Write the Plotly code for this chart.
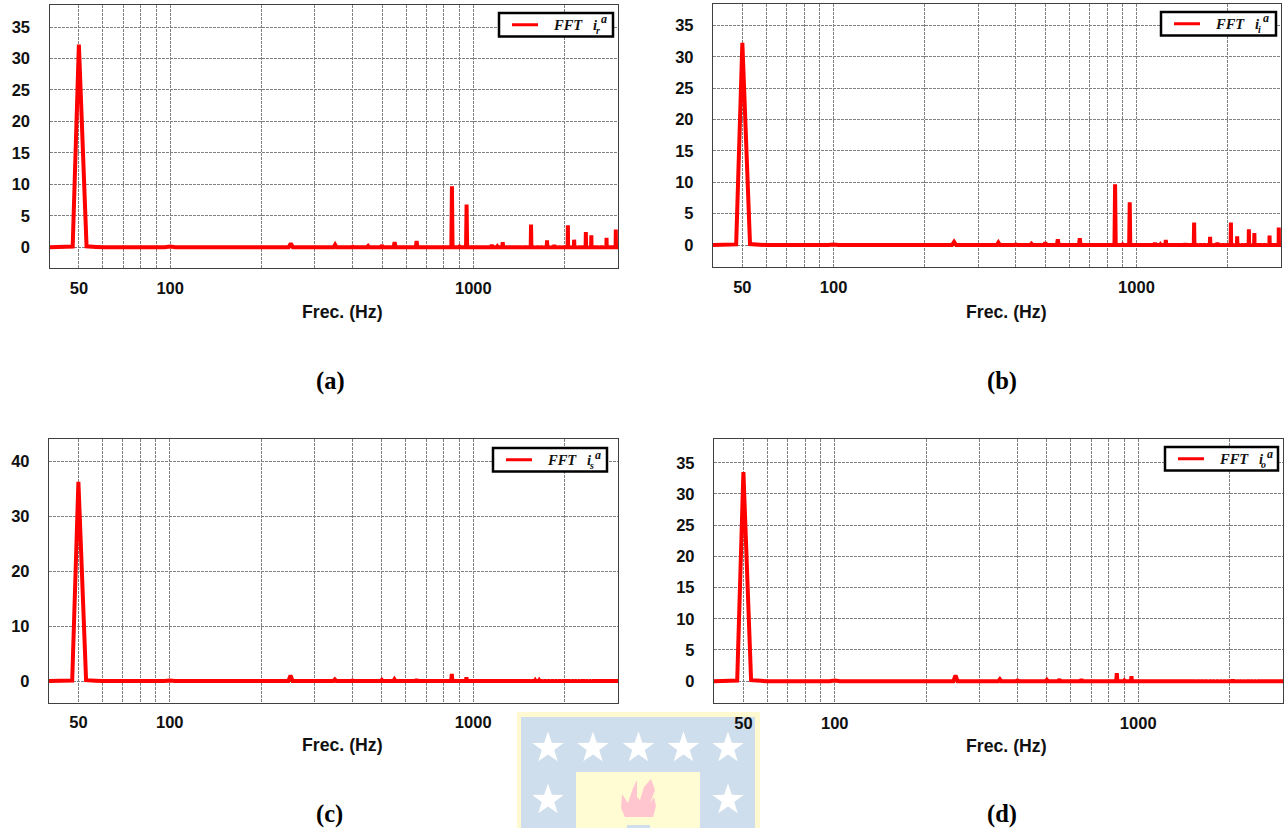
import math
import plotly.graph_objects as go

W, H = 1286, 828

# ---------- data ----------
main_freq = [40, 47.7, 50, 53, 57, 60]
a_main = [0.0, 0.1, 32.2, 0.15, 0.05, 0.0]
b_main = [0.0, 0.1, 32.2, 0.15, 0.05, 0.0]
c_main = [0.0, 0.1, 36.2, 0.15, 0.05, 0.0]
d_main = [0.0, 0.1, 33.5, 0.15, 0.05, 0.0]

harm_freq = [100, 150, 200, 250, 300, 350, 400, 450, 500, 550, 600, 650, 700, 750, 800, 850, 900, 950,
             1000, 1050, 1100, 1150, 1200, 1250, 1300, 1350, 1400, 1450, 1500, 1550, 1600, 1650, 1700, 1750,
             1800, 1850, 1900, 1950, 2000, 2050, 2100, 2150, 2200, 2250, 2300, 2350, 2400, 2450, 2500, 2550,
             2600, 2650, 2700, 2750, 2800, 2850, 2900, 2950]
a_harm = [0.1, 0.1, 0.1, 0.6, 0.0, 0.4, 0.1, 0.2, 0.3, 0.8, 0.0, 1.0, 0.1, 0.1, 0.0, 9.7, 0.1, 6.8,
          0.1, 0.1, 0.1, 0.4, 0.1, 0.8, 0.0, 0.15, 0.1, 0.2, 0.0, 3.6, 0.1, 0.2, 0.1, 1.1,
          0.1, 0.4, 0.1, 0.15, 0.0, 3.5, 0.1, 1.2, 0.1, 0.2, 0.0, 2.4, 0.1, 1.9, 0.0, 0.1,
          0.2, 0.3, 0.1, 1.5, 0.0, 0.1, 0.1, 2.8]
b_harm = [0.1, 0.1, 0.1, 0.5, 0.0, 0.4, 0.1, 0.2, 0.4, 0.9, 0.0, 1.1, 0.1, 0.1, 0.0, 9.7, 0.1, 6.8,
          0.1, 0.1, 0.1, 0.4, 0.1, 0.8, 0.0, 0.15, 0.1, 0.3, 0.0, 3.6, 0.1, 0.2, 0.1, 1.3,
          0.1, 0.4, 0.1, 0.15, 0.0, 3.6, 0.1, 1.4, 0.1, 0.2, 0.0, 2.5, 0.1, 1.9, 0.0, 0.1,
          0.2, 0.3, 0.1, 1.5, 0.0, 0.1, 0.1, 2.8]
c_harm = [0.1, 0.1, 0.15, 1.0, 0.0, 0.3, 0.1, 0.15, 0.2, 0.3, 0.0, 0.3, 0.1, 0.1, 0.0, 1.3, 0.1, 0.7,
          0.1, 0.1, 0.1, 0.15, 0.1, 0.15, 0.0, 0.1, 0.1, 0.15, 0.0, 0.2, 0.1, 0.1, 0.1, 0.15,
          0.1, 0.1, 0.1, 0.1, 0.0, 0.3, 0.1, 0.2, 0.1, 0.1, 0.0, 0.2, 0.1, 0.15, 0.0, 0.1,
          0.1, 0.1, 0.1, 0.15, 0.0, 0.1, 0.1, 0.1]
d_harm = [0.1, 0.1, 0.15, 0.9, 0.0, 0.3, 0.1, 0.15, 0.2, 0.3, 0.0, 0.3, 0.1, 0.1, 0.0, 1.3, 0.1, 0.8,
          0.1, 0.1, 0.1, 0.15, 0.1, 0.15, 0.0, 0.1, 0.1, 0.15, 0.0, 0.2, 0.1, 0.1, 0.1, 0.15,
          0.1, 0.1, 0.1, 0.1, 0.0, 0.3, 0.1, 0.2, 0.1, 0.1, 0.0, 0.2, 0.1, 0.15, 0.0, 0.1,
          0.1, 0.1, 0.1, 0.15, 0.0, 0.1, 0.1, 0.1]

x_major = [50, 100, 1000]
x_major_text = ["50", "100", "1000"]
x_minor = [60, 70, 80, 90, 200, 300, 400, 500, 600, 700, 800, 900, 2000, 3000]
y_ticks_35 = [0, 5, 10, 15, 20, 25, 30, 35]
y_ticks_40 = [0, 10, 20, 30, 40]
x_title = "Frec. (Hz)"
captions = ["(a)", "(b)", "(c)", "(d)"]
series_name = "FFT\u00a0\u00a0\u00a0i"
sub_letters = ["r", "i", "s", "o"]
sup_letter = "a"

# ---------- layout in pixels ----------
panels = [
    dict(box=(49.5, 618, 5, 268), yr=(-3.3, 38.5), yt=y_ticks_35, main=a_main, harm=a_harm,
         leg=(499, 13, 114), title=(342.5, 312), cap=(330, 381)),
    dict(box=(713, 1281, 4, 267), yr=(-3.5, 38.4), yt=y_ticks_35, main=b_main, harm=b_harm,
         leg=(1161, 12, 115), title=(1006, 311.5), cap=(1002, 381)),
    dict(box=(49, 618, 439, 702.5), yr=(-3.9, 44), yt=y_ticks_40, main=c_main, harm=c_harm,
         leg=(493, 448, 114), title=(342.5, 745), cap=(329, 814)),
    dict(box=(714, 1283, 439, 703), yr=(-3.5, 38.8), yt=y_ticks_35, main=d_main, harm=d_harm,
         leg=(1165, 447, 113), title=(1006, 745.5), cap=(1002, 814)),
]

def px(x):
    return x / W

def py(y):
    return 1 - y / H

GRID = "#808080"
AXIS = "#404040"
TICKFONT = dict(family="Liberation Sans", size=16.5, color="#111111")
DASH = "3px,1px"

fig = go.Figure()
layout = dict(
    width=W, height=H, margin=dict(l=0, r=0, t=0, b=0, autoexpand=False),
    paper_bgcolor="white", plot_bgcolor="rgba(0,0,0,0)", showlegend=False,
    annotations=[], shapes=[],
)
legend_shapes = []

def note(text, x, y, size, family, anchor="center", color="#111111"):
    return dict(text=text, x=px(x), y=py(y), xref="paper", yref="paper", xanchor=anchor, yanchor="middle",
                showarrow=False, font=dict(family=family, size=size, color=color))

for i, p in enumerate(panels):
    sfx = "" if i == 0 else str(i + 1)
    x0, x1, y0, y1 = p["box"]
    xs, ys = list(main_freq), list(p["main"])
    for f, v in zip(harm_freq, p["harm"]):
        xs += [f - 4, f, f + 4]
        ys += [0.0, v, 0.0]
    xs.append(3000)
    ys.append(0.0)
    fig.add_trace(go.Scatter(
        x=xs, y=ys, mode="lines", name=f"FFT i{sub_letters[i]} a",
        line=dict(color="#ff0000", width=4, shape="linear"),
        xaxis=f"x{sfx}", yaxis=f"y{sfx}", hoverinfo="x+y",
    ))
    layout[f"xaxis{sfx}"] = dict(
        type="log", range=[math.log10(40), math.log10(3000)],
        domain=[px(x0), px(x1)], anchor=f"y{sfx}",
        tickmode="array", tickvals=x_major, ticktext=[f"<b>{t}</b>" for t in x_major_text], tickfont=TICKFONT,
        ticks="outside", ticklen=5, tickcolor="rgba(0,0,0,0)",
        showgrid=True, gridcolor=GRID, griddash=DASH, gridwidth=1,
        minor=dict(tickmode="array", tickvals=x_minor, showgrid=True, gridcolor=GRID,
                   griddash=DASH, gridwidth=1, ticks=""),
        showline=True, linecolor=AXIS, linewidth=1.3, mirror=True, zeroline=False,
    )
    layout[f"yaxis{sfx}"] = dict(
        range=list(p["yr"]), domain=[py(y1), py(y0)], anchor=f"x{sfx}",
        tickmode="array", tickvals=p["yt"], ticktext=[f"<b>{t}</b>" for t in p["yt"]], tickfont=TICKFONT,
        ticks="outside", ticklen=15, tickcolor="rgba(0,0,0,0)",
        showgrid=True, gridcolor=GRID, griddash=DASH, gridwidth=1,
        showline=True, linecolor=AXIS, linewidth=1.3, mirror=True, zeroline=False,
    )
    # legend box, sample line and stacked sub/superscript
    lx, ly, lw = p["leg"]
    lh = 23.5
    legend_shapes.append(dict(type="rect", xref="paper", yref="paper", x0=px(lx), x1=px(lx + lw),
                              y0=py(ly + lh), y1=py(ly), fillcolor="white",
                              line=dict(color="#000000", width=2.5), layer="above"))
    legend_shapes.append(dict(type="line", xref="paper", yref="paper", x0=px(lx + 13), x1=px(lx + 39),
                              y0=py(ly + lh / 2), y1=py(ly + lh / 2),
                              line=dict(color="#ff0000", width=3), layer="above"))
    layout["annotations"] += [
        note(f"<b><i>{series_name}</i></b>", lx + 51.5, ly + lh / 2 + 0.5, 14.5, "Liberation Serif", anchor="left"),
        note(f"<b><i>{sup_letter}</i></b>", lx + 105, ly + 6.5, 12, "Liberation Serif"),
        note(f"<b><i>{sub_letters[i]}</i></b>", lx + 98.5, ly + 17.5, 10, "Liberation Serif"),
        note(f"<b>{x_title}</b>", p["title"][0], p["title"][1], 17.7, "Liberation Sans"),
        note(f"<b>{captions[i]}</b>", p["cap"][0], p["cap"][1], 24.5, "Liberation Serif", color="#000000"),
    ]

# ---------- faint university crest behind the page ----------
def rect(a, b, c, d, col):
    return dict(type="rect", xref="paper", yref="paper", x0=px(a), x1=px(b), y0=py(d), y1=py(c),
                fillcolor=col, line=dict(width=0), layer="below")

def poly(pts, col):
    path = "M " + " L ".join(f"{px(x):.5f} {py(y):.5f}" for x, y in pts) + " Z"
    return dict(type="path", xref="paper", yref="paper", path=path, fillcolor=col,
                line=dict(width=0), layer="below")

def star(cx, cy, r=16.5):
    pts = []
    for k in range(10):
        rr = r if k % 2 == 0 else r * 0.40
        ang = -math.pi / 2 + k * math.pi / 5
        pts.append((cx + rr * math.cos(ang), cy + rr * math.sin(ang)))
    return poly(pts, "#ffffff")

crest = [rect(517, 760, 712, 828, "#fff9d2"), rect(521, 755, 717, 828, "#cfdeec"),
         rect(576, 700, 772, 828, "#fffcd4")]
crest += [star(x, 748) for x in (548, 593, 638.5, 683.5, 728)]
crest += [star(x, 800) for x in (548, 728)]
crest.append(poly([(625, 817), (621, 808), (622, 794), (628, 803), (633, 788), (637, 780), (637, 797),
                   (640, 800), (644, 787), (651, 779), (655, 790), (650, 803), (654, 797), (656, 806),
                   (653, 817)], "#ffc6cf"))
crest.append(rect(627, 650, 825, 828, "#cfdeec"))
layout["shapes"] = crest + legend_shapes

fig.update_layout(**layout)
fig.write_html("out.html", config=dict(displayModeBar=False),
               post_script="document.body.style.margin='0';document.body.style.overflow='hidden';")
